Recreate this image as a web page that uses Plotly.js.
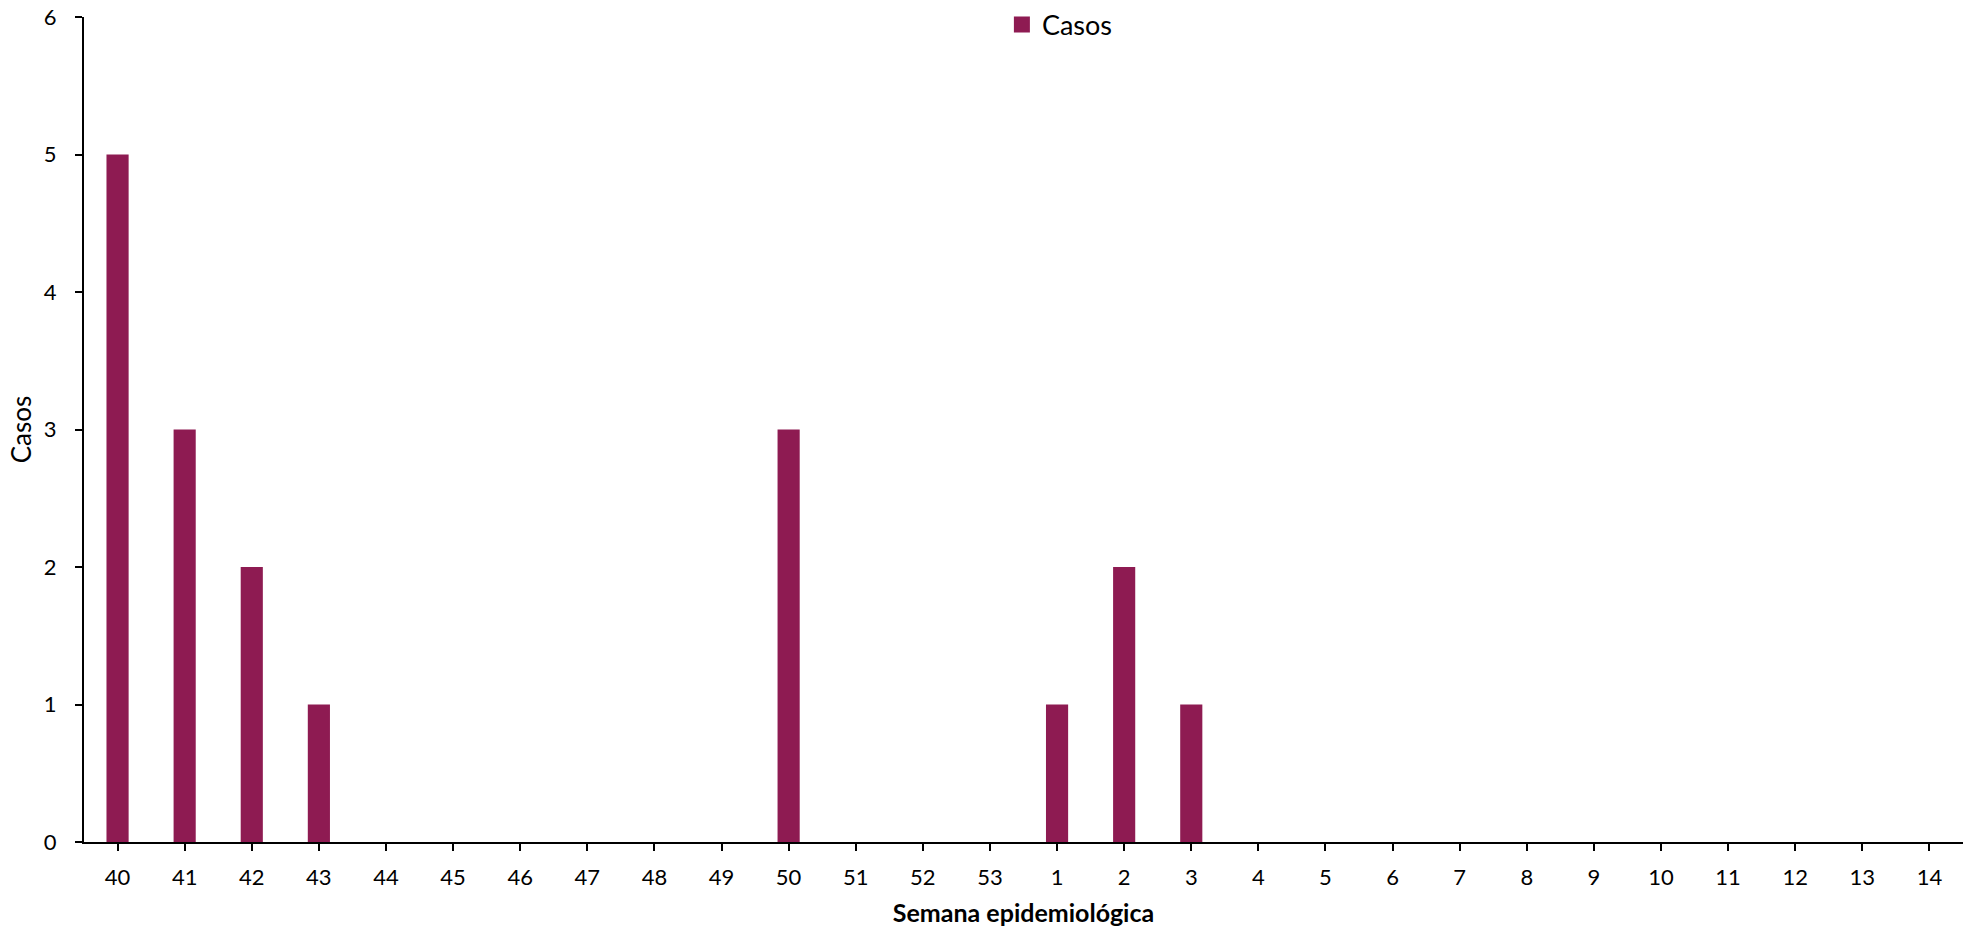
<!DOCTYPE html>
<html>
<head>
<meta charset="utf-8">
<script src="https://cdn.plot.ly/plotly-3.0.1.min.js"></script>
<style>html,body{margin:0;padding:0;background:#fff;}#chart{width:1964px;height:927px;}</style>
</head>
<body>
<div id="chart"></div>
<script>
const weeks = ["40","41","42","43","44","45","46","47","48","49","50","51","52","53",
               "1","2","3","4","5","6","7","8","9","10","11","12","13","14"];
const casos = [5,3,2,1,0,0,0,0,0,0,3,0,0,0,
               1,2,1,0,0,0,0,0,0,0,0,0,0,0];
const seriesName = "Casos";
const xTitle = "Semana epidemiológica";
const yTitle = "Casos";

const FONT = "Lato, 'Open Sans', sans-serif";
const BAR_COLOR = "#8E1B52";

const barTrace = {
  type: "bar",
  x: weeks,
  y: casos,
  name: seriesName,
  showlegend: false,
  marker: {color: BAR_COLOR, line: {width: 0}},
  hoverinfo: "x+y"
};
// legend entry (square swatch like the original)
const legendTrace = {
  type: "scatter",
  mode: "markers",
  x: [weeks[0]],
  y: [null],
  name: seriesName,
  showlegend: true,
  marker: {symbol: "square", size: 17, color: BAR_COLOR},
  hoverinfo: "skip"
};

const layout = {
  width: 1964,
  height: 927,
  margin: {l: 84, r: 1, t: 17, b: 85, pad: 0, autoexpand: false},
  paper_bgcolor: "#ffffff",
  plot_bgcolor: "#ffffff",
  bargap: 0.67,
  font: {family: FONT, color: "#000000", size: 22},
  showlegend: true,
  legend: {
    orientation: "h",
    x: 0.4885, xanchor: "left",
    y: 1.02, yanchor: "top",
    font: {family: FONT, size: 27, color: "#000"},
    bgcolor: "rgba(0,0,0,0)",
    itemwidth: 30
  },
  xaxis: {
    type: "category",
    categoryorder: "array",
    categoryarray: weeks,
    range: [-0.5, weeks.length - 0.5],
    autorange: false,
    showline: true,
    linecolor: "#000",
    linewidth: 2,
    ticks: "outside",
    ticklen: 7,
    tickwidth: 2,
    tickcolor: "#000",
    ticklabelstandoff: 8,
    showgrid: false,
    zeroline: false,
    tickfont: {family: FONT, size: 22, color: "#000"},
    title: {text: xTitle, font: {family: FONT, size: 25, color: "#000", weight: "bold"}, standoff: 26}
  },
  yaxis: {
    range: [0, 6],
    autorange: false,
    dtick: 1,
    tick0: 0,
    showline: true,
    linecolor: "#000",
    linewidth: 2,
    ticks: "outside",
    ticklen: 7,
    tickwidth: 2,
    tickcolor: "#000",
    ticklabelstandoff: 14,
    showgrid: false,
    zeroline: false,
    tickfont: {family: FONT, size: 22, color: "#000"},
    title: {text: yTitle, font: {family: FONT, size: 26, color: "#000"}, standoff: 5}
  }
};

Plotly.newPlot("chart", [barTrace, legendTrace], layout, {displayModeBar: false, staticPlot: true});
</script>
</body>
</html>
